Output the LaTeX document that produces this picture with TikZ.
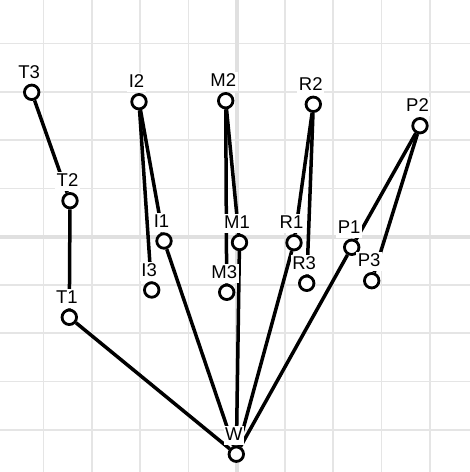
\documentclass[tikz,border=0pt]{standalone}
\usepackage{fontspec}
\setsansfont{Liberation Sans}
\tikzset{
  joint/.style={circle, draw=black, fill=white, line width=2.8pt, minimum size=14.5pt, inner sep=0pt},
  bone/.style={line width=3.5pt, black},
  tag/.style={fill=white, inner xsep=1.5pt, inner ysep=1.5pt, text height=13pt, text depth=3pt, anchor=base, font=\sffamily\fontsize{18.5}{20}\selectfont},
  gridline/.style={line width=1.7pt, black!10},
  axisline/.style={line width=4pt, black!12}
}
\begin{document}
\begin{tikzpicture}[x=1pt,y=1pt]
        \useasboundingbox (0,0) rectangle (470,-472);
        \fill[white] (0,0) rectangle (470,-472);
        % grid
        \foreach \k in {-4,...,4} {
          \draw[gridline] (236.7+48.3*\k,0) -- (236.7+48.3*\k,-472);
          \draw[gridline] (0,-236.7-48.3*\k) -- (470,-236.7-48.3*\k);
        }
        \draw[axisline] (236.7,0) -- (236.7,-472);
        \draw[axisline] (0,-236.7) -- (470,-236.7);
        % joints
        \foreach \n/\x/\y in {W/236.3/454.2, T1/69.3/317.3, T2/70/200.7, T3/31.7/92.3,
            I1/164/241, I2/139/101.7, I3/151.7/290, M1/239.5/242.5, M2/225.7/100.7, M3/226.7/292.3,
            R1/294/242.7, R2/313.3/104.3, R3/306.7/283.3, P1/351.7/247.3, P2/420/125.7, P3/371.7/280.7}
          \node[joint] (\n) at (\x,-\y) {};
        % bones
        \foreach \a/\b in {T3/T2, T2/T1, T1/W, I2/I1, I2/I3, I1/W, M2/M1, M2/M3, M1/W,
            R2/R1, R2/R3, R1/W, P2/P1, P2/P3, P1/W}
          \draw[bone] (\a) -- (\b);
        % labels
        \foreach \n in {W, T1, T2, T3, I1, I2, I3, M1, M2, M3, R1, R2, R3, P1, P2, P3}
          \node[tag] (\n-l) at ([shift={(-2.5,14)}]\n) {\n};
        \end{tikzpicture}
\end{document}
